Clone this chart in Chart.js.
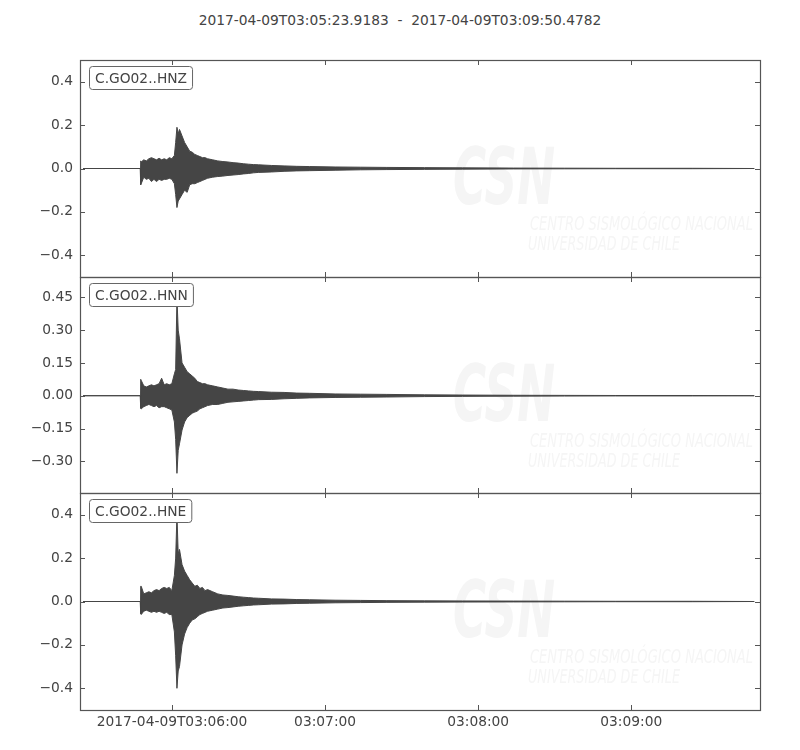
<!DOCTYPE html>
<html>
<head>
<meta charset="utf-8">
<script src="https://cdn.jsdelivr.net/npm/chart.js@4.4.0/dist/chart.umd.min.js"></script>
<style>
  body { margin: 0; background: #fff; }
  #page { position: relative; width: 800px; height: 750px; overflow: hidden; }
  #title { position: absolute; left: 0; width: 800px; top: 12px; text-align: center;
           font: 13.8px "DejaVu Sans", sans-serif; color: #444; white-space: pre; }
  .panel { position: absolute; left: 0; width: 800px; }
</style>
</head>
<body>
<div id="page">
  <div id="title">2017-04-09T03:05:23.9183  -  2017-04-09T03:09:50.4782</div>
  <div class="panel" style="top:50px;height:237px"><canvas id="hnz"></canvas></div>
  <div class="panel" style="top:267px;height:236px"><canvas id="hnn"></canvas></div>
  <div class="panel" style="top:483px;height:267px"><canvas id="hne"></canvas></div>
</div>
<script>
// seconds after 2017-04-09T03:05:23.9183, envelope
const times = [1.2, 23.6, 23.8,
  24, 25, 26, 27, 28, 29, 30, 31, 32, 33, 34, 35, 36,
  37, 37.5, 38, 38.5, 39,
  40, 41, 42, 43, 44, 45, 46, 47, 48, 49, 50,
  52, 54, 56, 58, 60, 62, 64, 66, 68, 70,
  75, 80, 85, 90, 100, 110, 120,
  135, 150, 170, 190, 210, 240, 264.3];

const hnzMax = [0, 0, 0.035,
  0.03, 0.04, 0.035, 0.045, 0.05, 0.045, 0.04, 0.047, 0.04, 0.045, 0.04, 0.05, 0.045,
  0.06, 0.12, 0.19, 0.16, 0.18,
  0.15, 0.12, 0.10, 0.08, 0.075, 0.065, 0.06, 0.055, 0.05, 0.05, 0.045,
  0.04, 0.035, 0.032, 0.03, 0.027, 0.025, 0.022, 0.02, 0.018, 0.017,
  0.014, 0.012, 0.01, 0.009, 0.007, 0.006, 0.005,
  0.004, 0.003, 0.002, 0.0015, 0.001, 0.001, 0];
const hnzMin = [0, 0, -0.075,
  -0.07, -0.04, -0.05, -0.045, -0.06, -0.05, -0.06, -0.05, -0.055, -0.05, -0.05, -0.045, -0.05,
  -0.07, -0.12, -0.18, -0.15, -0.14,
  -0.12, -0.10, -0.11, -0.075, -0.07, -0.07, -0.065, -0.06, -0.055, -0.05, -0.045,
  -0.04, -0.037, -0.035, -0.032, -0.03, -0.028, -0.025, -0.023, -0.02, -0.018,
  -0.016, -0.013, -0.011, -0.01, -0.008, -0.006, -0.005,
  -0.004, -0.003, -0.002, -0.0015, -0.001, -0.001, 0];

const hnnMax = [0, 0, 0.075,
  0.07, 0.045, 0.04, 0.045, 0.05, 0.045, 0.05, 0.055, 0.08, 0.05, 0.055, 0.05, 0.055,
  0.10, 0.12, 0.45, 0.30, 0.26,
  0.15, 0.13, 0.11, 0.10, 0.09, 0.08, 0.065, 0.06, 0.055, 0.055, 0.05,
  0.045, 0.04, 0.035, 0.03, 0.03, 0.026, 0.024, 0.022, 0.02, 0.019,
  0.016, 0.015, 0.012, 0.011, 0.008, 0.007, 0.006,
  0.004, 0.003, 0.002, 0.0015, 0.001, 0.001, 0];
const hnnMin = [0, 0, -0.058,
  -0.06, -0.05, -0.045, -0.04, -0.045, -0.05, -0.045, -0.055, -0.05, -0.05, -0.055, -0.06, -0.065,
  -0.12, -0.20, -0.355, -0.25, -0.22,
  -0.157, -0.12, -0.10, -0.09, -0.08, -0.075, -0.07, -0.06, -0.055, -0.05, -0.045,
  -0.04, -0.04, -0.035, -0.03, -0.028, -0.026, -0.024, -0.022, -0.02, -0.018,
  -0.017, -0.014, -0.012, -0.01, -0.008, -0.007, -0.006,
  -0.004, -0.003, -0.002, -0.0015, -0.001, -0.001, 0];

const hneMax = [0, 0, 0.07,
  0.07, 0.035, 0.04, 0.045, 0.04, 0.05, 0.055, 0.05, 0.06, 0.065, 0.06, 0.065, 0.05,
  0.12, 0.20, 0.40, 0.22, 0.24,
  0.17, 0.14, 0.12, 0.10, 0.085, 0.07, 0.075, 0.06, 0.065, 0.05, 0.055,
  0.045, 0.035, 0.03, 0.028, 0.025, 0.022, 0.02, 0.018, 0.016, 0.015,
  0.012, 0.011, 0.009, 0.008, 0.006, 0.005, 0.004,
  0.003, 0.0025, 0.002, 0.0015, 0.001, 0.001, 0];
const hneMin = [0, 0, -0.057,
  -0.06, -0.045, -0.04, -0.045, -0.05, -0.045, -0.05, -0.045, -0.05, -0.055, -0.05, -0.06, -0.06,
  -0.14, -0.25, -0.40, -0.32, -0.30,
  -0.20, -0.15, -0.12, -0.10, -0.085, -0.08, -0.07, -0.06, -0.055, -0.05, -0.045,
  -0.04, -0.035, -0.03, -0.028, -0.025, -0.022, -0.02, -0.018, -0.016, -0.015,
  -0.012, -0.011, -0.009, -0.008, -0.006, -0.005, -0.004,
  -0.003, -0.0025, -0.002, -0.0015, -0.001, -0.001, 0];

const duration = 266.5599;
const xTickSeconds = [36.0817, 96.0817, 156.0817, 216.0817];
const xTickLabels = ['2017-04-09T03:06:00', '03:07:00', '03:08:00', '03:09:00'];

const yTicksZ = [-0.4, -0.2, 0, 0.2, 0.4];
const yTicksN = [-0.30, -0.15, 0, 0.15, 0.30, 0.45];
const yTicksE = [-0.4, -0.2, 0, 0.2, 0.4];

const FONT = '"DejaVu Sans", sans-serif';
const FSIZE = 13.8;
const TEXT = '#444';
const SPINE = '#555';
const TRACE = '#454545';

// frame with inward ticks on all four sides, like the matplotlib classic style
const framePlugin = {
  id: 'frame',
  afterDraw(chart) {
    const { ctx, chartArea: a, scales } = chart;
    ctx.save();
    ctx.strokeStyle = SPINE;
    ctx.lineWidth = 1;
    ctx.beginPath();
    scales.x.ticks.forEach(t => {
      const px = Math.round(scales.x.getPixelForValue(t.value)) + 0.5;
      ctx.moveTo(px, a.top); ctx.lineTo(px, a.top + 5);
      ctx.moveTo(px, a.bottom); ctx.lineTo(px, a.bottom - 5);
    });
    scales.y.ticks.forEach(t => {
      const py = Math.round(scales.y.getPixelForValue(t.value)) + 0.5;
      ctx.moveTo(a.left, py); ctx.lineTo(a.left + 5, py);
      ctx.moveTo(a.right, py); ctx.lineTo(a.right - 5, py);
    });
    ctx.stroke();
    ctx.lineWidth = 1.2;
    ctx.strokeRect(Math.round(a.left) + 0.5, Math.round(a.top) + 0.5,
      Math.round(a.right - a.left), Math.round(a.bottom - a.top));
    // station label box
    const label = chart.options.plugins.frame.label;
    ctx.font = FSIZE + 'px ' + FONT;
    const w = ctx.measureText(label).width + 11;
    const bx = a.left + 9.5, by = a.top + 6.5, bh = 23;
    ctx.beginPath();
    ctx.roundRect(bx, by, w, bh, 3);
    ctx.fillStyle = '#fff';
    ctx.fill();
    ctx.lineWidth = 1;
    ctx.strokeStyle = '#666';
    ctx.stroke();
    ctx.fillStyle = TEXT;
    ctx.textBaseline = 'middle';
    ctx.fillText(label, bx + 5.5, by + bh / 2 + 1);
    ctx.restore();
  },
  beforeDatasetsDraw(chart) {
    // faint CSN watermark
    const { ctx, chartArea: a } = chart;
    ctx.save();
    ctx.fillStyle = '#f5f5f5';
    const put = (txt, font, x, y, width) => {
      ctx.font = font;
      const m = ctx.measureText(txt).width;
      ctx.save();
      ctx.translate(x, y);
      ctx.scale(width / m, 1);
      ctx.fillText(txt, 0, 0);
      ctx.restore();
    };
    put('CSN', 'italic bold 78px ' + FONT, 453, a.top + 144, 102);
    put('CENTRO SISMOLÓGICO NACIONAL', 'italic 20px ' + FONT, 530, a.top + 170, 223);
    put('UNIVERSIDAD DE CHILE', 'italic 20px ' + FONT, 528, a.top + 190, 152);
    ctx.restore();
  }
};

function makePanel(id, label, upper, lower, yMin, yMax, yTicks, decimals, showX) {
  const pts = arr => times.map((t, i) => ({ x: t, y: arr[i] }));
  return new Chart(document.getElementById(id), {
    type: 'line',
    data: {
      datasets: [
        { data: pts(upper), borderColor: TRACE, backgroundColor: TRACE, borderWidth: 1,
          pointRadius: 0, tension: 0, fill: false },
        { data: pts(lower), borderColor: TRACE, backgroundColor: TRACE, borderWidth: 1,
          pointRadius: 0, tension: 0, fill: '-1' }
      ]
    },
    options: {
      responsive: true,
      maintainAspectRatio: false,
      animation: false,
      events: [],
      layout: { padding: { left: 0, right: 40, top: 10, bottom: showX ? 0 : 10 } },
      plugins: {
        legend: { display: false },
        tooltip: { enabled: false },
        frame: { label: label }
      },
      scales: {
        x: {
          type: 'linear',
          min: 0,
          max: duration,
          grid: { display: false, drawTicks: false },
          border: { display: false },
          afterBuildTicks: s => { s.ticks = xTickSeconds.map(v => ({ value: v })); },
          afterFit: s => {
            s.height = showX ? 40 : 0;
            s.paddingLeft = 0; s.paddingRight = 0; s.paddingTop = 0; s.paddingBottom = 0;
          },
          ticks: {
            display: showX,
            autoSkip: false,
            maxRotation: 0,
            padding: 4,
            color: TEXT,
            font: { family: FONT, size: FSIZE },
            callback: (v, i) => xTickLabels[i]
          }
        },
        y: {
          min: yMin,
          max: yMax,
          grid: { display: false, drawTicks: false },
          border: { display: false },
          afterBuildTicks: s => { s.ticks = yTicks.map(v => ({ value: v })); },
          afterFit: s => {
            s.width = 80;
            s.paddingTop = 0; s.paddingBottom = 0; s.paddingLeft = 0; s.paddingRight = 0;
          },
          ticks: {
            padding: 7,
            color: TEXT,
            font: { family: FONT, size: FSIZE },
            callback: v => v.toFixed(decimals).replace('-', '\u2212').replace('\u22120.00', '0.00').replace('\u22120.0', '0.0')
          }
        }
      }
    },
    plugins: [framePlugin]
  });
}

makePanel('hnz', 'C.GO02..HNZ', hnzMax, hnzMin, -0.5, 0.5, yTicksZ, 1, false);
makePanel('hnn', 'C.GO02..HNN', hnnMax, hnnMin, -0.445, 0.543, yTicksN, 2, false);
makePanel('hne', 'C.GO02..HNE', hneMax, hneMin, -0.5, 0.5, yTicksE, 1, true);
</script>
</body>
</html>
